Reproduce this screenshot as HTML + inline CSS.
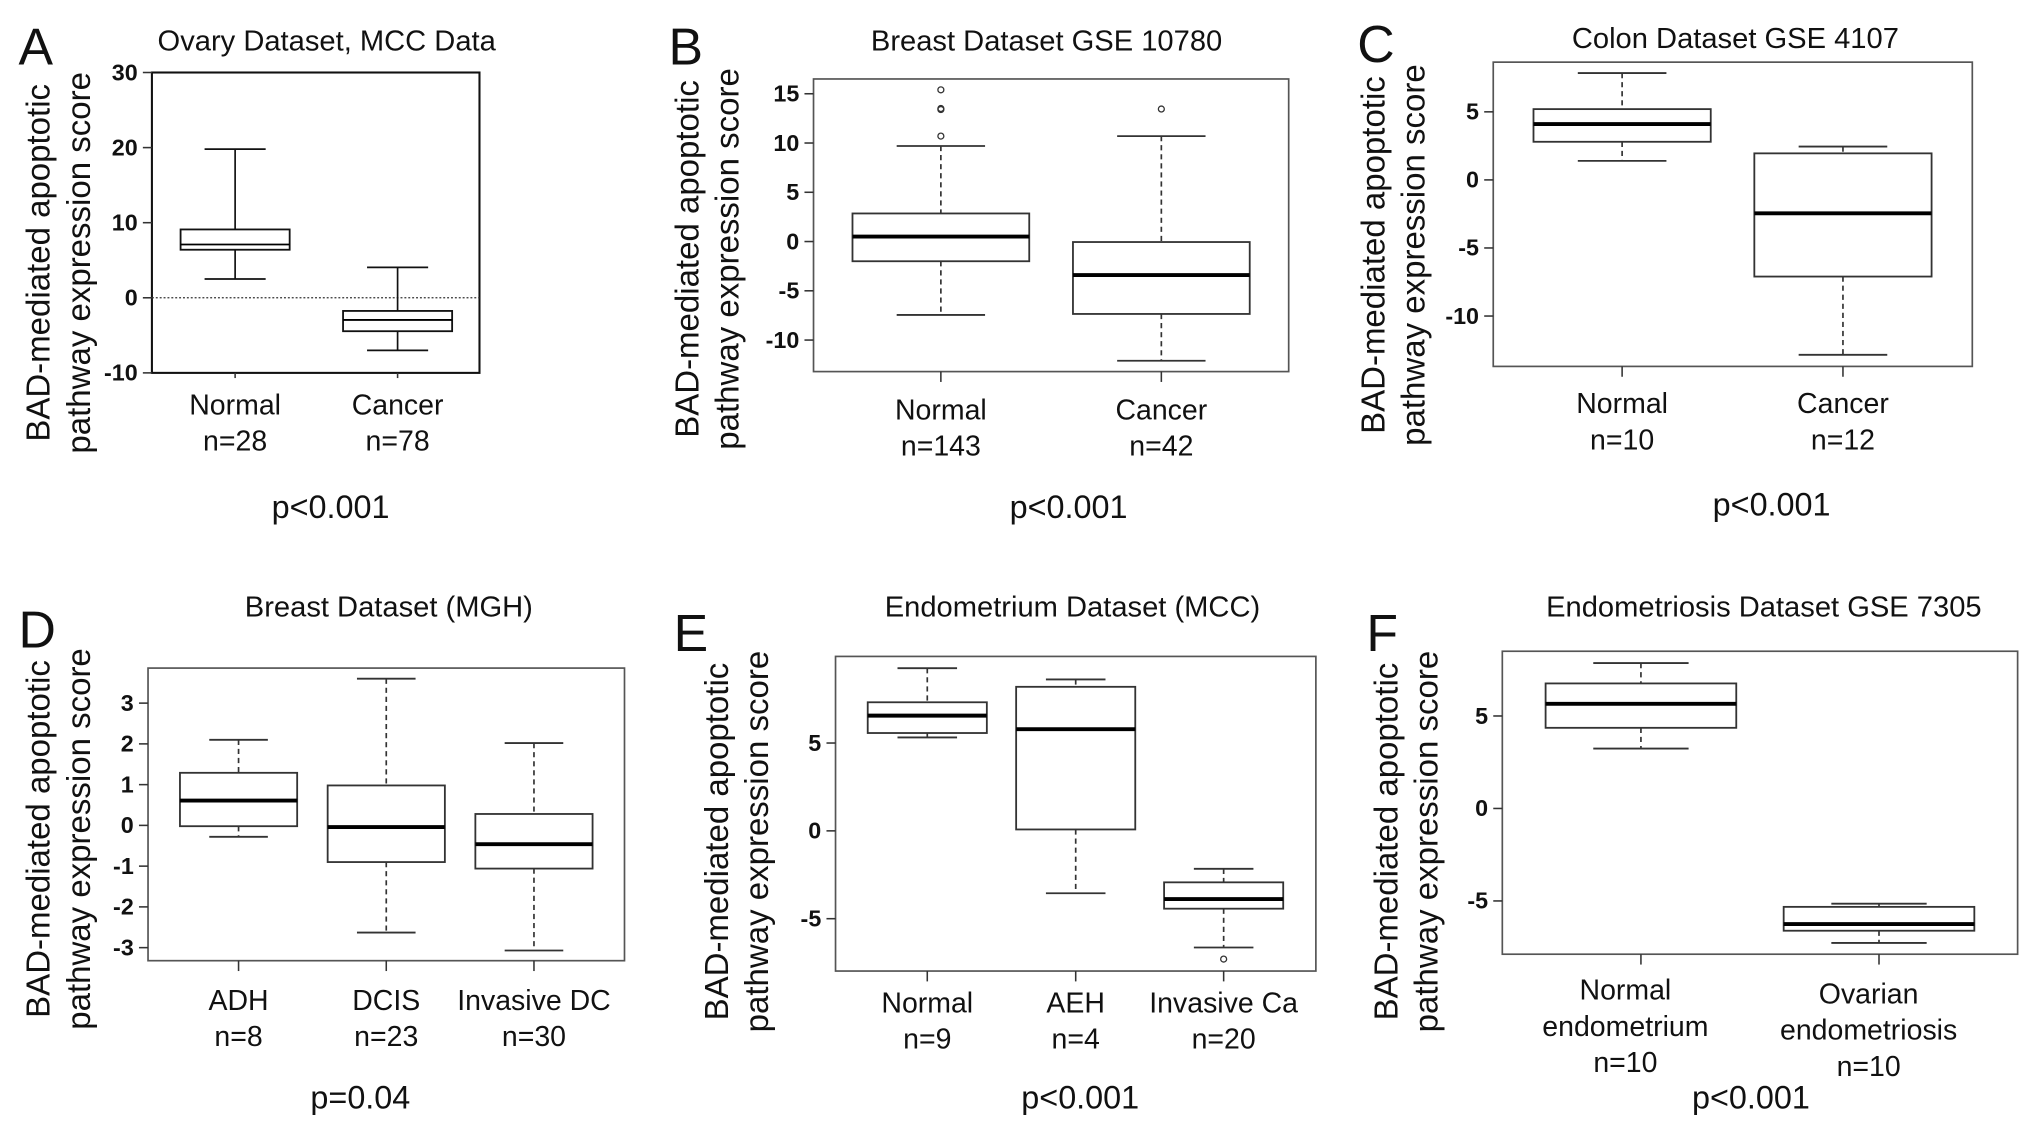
<!DOCTYPE html>
<html><head><meta charset="utf-8"><style>
html,body{margin:0;padding:0;background:#fff;}
svg{display:block;}
text{font-family:"Liberation Sans Narrow","Liberation Sans",sans-serif;fill:#111;}
.lbl{font-family:"Liberation Sans",sans-serif;}
</style></head><body>
<svg id="fig" width="2031" height="1129" viewBox="0 0 1568 872" xmlns="http://www.w3.org/2000/svg"></svg>
<script>
// ---- Panel A data ----
const aCats=["Normal","Cancer"];
const aN=["n=28","n=78"];
const aLo=[2.5,-7.0];
const aQ1=[6.4,-4.45];
const aMed=[7.1,-2.95];
const aQ3=[9.1,-1.75];
const aHi=[19.8,4.05];
const aOut=[[],[]];
const aTicks=[30,20,10,0,-10];
// ---- Panel B data ----
const bCats=["Normal","Cancer"];
const bN=["n=143","n=42"];
const bLo=[-7.45,-12.1];
const bQ1=[-2.0,-7.35];
const bMed=[0.5,-3.4];
const bQ3=[2.85,-0.05];
const bHi=[9.7,10.7];
const bOut=[[15.4,13.5,13.4,10.7],[13.45]];
const bTicks=[15,10,5,0,-5,-10];
// ---- Panel C data ----
const cCats=["Normal","Cancer"];
const cN=["n=10","n=12"];
const cLo=[1.4,-12.85];
const cQ1=[2.8,-7.1];
const cMed=[4.1,-2.45];
const cQ3=[5.2,1.95];
const cHi=[7.85,2.45];
const cOut=[[],[]];
const cTicks=[5,0,-5,-10];
// ---- Panel D data ----
const dCats=["ADH","DCIS","Invasive DC"];
const dN=["n=8","n=23","n=30"];
const dLo=[-0.28,-2.63,-3.07];
const dQ1=[-0.02,-0.9,-1.06];
const dMed=[0.61,-0.04,-0.46];
const dQ3=[1.29,0.98,0.28];
const dHi=[2.1,3.6,2.02];
const dOut=[[],[],[]];
const dTicks=[3,2,1,0,-1,-2,-3];
// ---- Panel E data ----
const eCats=["Normal","AEH","Invasive Ca"];
const eN=["n=9","n=4","n=20"];
const eLo=[5.32,-3.55,-6.64];
const eQ1=[5.57,0.08,-4.43];
const eMed=[6.56,5.79,-3.88];
const eQ3=[7.32,8.2,-2.93];
const eHi=[9.26,8.62,-2.16];
const eOut=[[],[],[-7.3]];
const eTicks=[5,0,-5];
// ---- Panel F data ----
const fCats=["Normal endometrium","Ovarian endometriosis"];
const fN=["n=10","n=10"];
const fLo=[3.24,-7.27];
const fQ1=[4.36,-6.61];
const fMed=[5.66,-6.25];
const fQ3=[6.76,-5.32];
const fHi=[7.86,-5.15];
const fOut=[[],[]];
const fTicks=[5,0,-5];

const NS="http://www.w3.org/2000/svg";
const svg=document.getElementById('fig');
function mk(tag,attrs,parent,txt){const e=document.createElementNS(NS,tag);for(const k in attrs)e.setAttribute(k,attrs[k]);if(txt!==undefined)e.textContent=txt;(parent||svg).appendChild(e);return e;}

function panel(cfg){
  const g=mk('g',{});
  
  
  const L=cfg.x0,R=cfg.x1,T=cfg.y0,B=cfg.y1;
  const ys=v=>T+(cfg.ymax-v)/(cfg.ymax-cfg.ymin)*(B-T);
  const xs=i=>L+cfg.pos[i]*(R-L);
  const bw=cfg.bw*(R-L);
  const prism=cfg.prism;
  let t=mk('text',{x:cfg.lx,y:cfg.ly,'font-size':40,class:'lbl'},g,cfg.letter);
  
  t=mk('text',{x:cfg.tx,y:cfg.ty,'font-size':22.5,'text-anchor':'middle',class:'lbl'},g,cfg.title);
  
  const yt=mk('text',{transform:`translate(${cfg.yx},${cfg.yc}) rotate(-90)`,'font-size':25.5,'text-anchor':'middle',class:'lbl'},g);
  
  mk('tspan',{x:0,y:0},yt,'BAD-mediated apoptotic');
  mk('tspan',{x:0,y:31},yt,'pathway expression score');
  const fr=mk('rect',{x:L,y:T,width:R-L,height:B-T,fill:'none',stroke:prism?'#111':'#555','stroke-width':prism?1.6:1.3},g);
  
  cfg.ticks.forEach(v=>{
    const y=ys(v);
    const tk=mk('line',{x1:L-7,x2:L,y1:y,y2:y,stroke:'#333','stroke-width':1.2},g);
    
    const tl=mk('text',{x:L-11,y:y+6,'font-size':18,'font-weight':'bold','text-anchor':'end'},g,String(v));
    
  });
  if(prism){const z=mk('line',{x1:L,x2:R,y1:ys(0),y2:ys(0),stroke:'#333','stroke-width':1,'stroke-dasharray':'1.5,1.5'},g);
    }
  cfg.cats.forEach((c,i)=>{
    const cx=xs(i);
    const bg=mk('g',{},g);
    
    
    const dash=prism?'':'4,3';
    const col=prism?'#111':'#333';
    mk('line',{x1:cx,x2:cx,y1:ys(cfg.hi[i]),y2:ys(cfg.q3[i]),stroke:col,'stroke-width':1.3,'stroke-dasharray':dash},bg);
    mk('line',{x1:cx,x2:cx,y1:ys(cfg.q1[i]),y2:ys(cfg.lo[i]),stroke:col,'stroke-width':1.3,'stroke-dasharray':dash},bg);
    const cw=prism?bw*0.28:bw*0.25;
    mk('line',{x1:cx-cw,x2:cx+cw,y1:ys(cfg.hi[i]),y2:ys(cfg.hi[i]),stroke:col,'stroke-width':1.4},bg);
    mk('line',{x1:cx-cw,x2:cx+cw,y1:ys(cfg.lo[i]),y2:ys(cfg.lo[i]),stroke:col,'stroke-width':1.4},bg);
    mk('rect',{x:cx-bw/2,y:ys(cfg.q3[i]),width:bw,height:ys(cfg.q1[i])-ys(cfg.q3[i]),fill:'#fff',stroke:col,'stroke-width':1.4},bg);
    mk('line',{x1:cx-bw/2,x2:cx+bw/2,y1:ys(cfg.med[i]),y2:ys(cfg.med[i]),stroke:'#000','stroke-width':prism?1.4:3},bg);
    cfg.out[i].forEach(o=>{const oc=mk('circle',{cx:cx,cy:ys(o),r:2.3,fill:'none',stroke:'#333','stroke-width':1},bg);
      });
    const xt=mk('line',{x1:cx,x2:cx,y1:B,y2:B+(prism?4:8),stroke:'#333','stroke-width':1.2},g);
    
    const lines=cfg.split?c.split(' '):[c];
    lines.push(cfg.n[i]);
    const lb=mk('text',{'font-size':22,'text-anchor':'middle'},g);
    
    const ly0=cfg.cy+(cfg.cyd?cfg.cyd[i]:0);
    lines.forEach((s,k)=>mk('tspan',{x:cx+(cfg.cdx?cfg.cdx[i]:0),y:ly0+k*28},lb,s));
  });
  t=mk('text',{x:cfg.px,y:cfg.py,'font-size':25,'text-anchor':'middle',class:'lbl'},g,cfg.p);
  
}

panel({id:'a',letter:'A',lx:14,ly:50,title:'Ovary Dataset, MCC Data',tx:252,ty:39,yx:38,yc:203,
  x0:117,x1:370,y0:56,y1:288,ymax:30,ymin:-10,pos:[0.254,0.75],bw:0.333,prism:true,
  cats:aCats,n:aN,lo:aLo,q1:aQ1,med:aMed,q3:aQ3,hi:aHi,out:aOut,ticks:aTicks,cy:320,px:255,py:400,p:'p<0.001'});
panel({id:'b',letter:'B',lx:516,ly:50,title:'Breast Dataset GSE 10780',tx:808,ty:39,yx:539,yc:200,
  x0:628,x1:995,y0:61,y1:287,ymax:16.5,ymin:-13.2,pos:[0.268,0.732],bw:0.372,
  cats:bCats,n:bN,lo:bLo,q1:bQ1,med:bMed,q3:bQ3,hi:bHi,out:bOut,ticks:bTicks,cy:324,px:825,py:400,p:'p<0.001'});
panel({id:'c',letter:'C',lx:1048,ly:48,title:'Colon Dataset GSE 4107',tx:1340,ty:37,yx:1069,yc:197,
  x0:1153,x1:1523,y0:48,y1:283,ymax:8.65,ymin:-13.7,pos:[0.269,0.73],bw:0.37,
  cats:cCats,n:cN,lo:cLo,q1:cQ1,med:cMed,q3:cQ3,hi:cHi,out:cOut,ticks:cTicks,cy:319,px:1368,py:398,p:'p<0.001'});
panel({id:'d',letter:'D',lx:14,ly:500,title:'Breast Dataset  (MGH)',tx:300,ty:476,yx:38,yc:648,
  x0:114,x1:482,y0:516,y1:742,ymax:3.86,ymin:-3.32,pos:[0.19,0.5,0.81],bw:0.246,
  cats:dCats,n:dN,lo:dLo,q1:dQ1,med:dMed,q3:dQ3,hi:dHi,out:dOut,ticks:dTicks,cy:780,px:278,py:856,p:'p=0.04'});
panel({id:'e',letter:'E',lx:520,ly:503,title:'Endometrium Dataset (MCC)',tx:828,ty:476,yx:562,yc:650,
  x0:645,x1:1016,y0:507,y1:750,ymax:9.93,ymin:-7.98,pos:[0.191,0.5,0.808],bw:0.248,
  cats:eCats,n:eN,lo:eLo,q1:eQ1,med:eMed,q3:eQ3,hi:eHi,out:eOut,ticks:eTicks,cy:782,px:834,py:856,p:'p<0.001'});
panel({id:'f',letter:'F',lx:1055,ly:503,title:'Endometriosis Dataset GSE 7305',tx:1362,ty:476,yx:1079,yc:650,
  x0:1160,x1:1558,y0:503,y1:737,ymax:8.5,ymin:-7.88,pos:[0.269,0.731],bw:0.37,split:true,cdx:[-12,-8],
  cats:fCats,n:fN,lo:fLo,q1:fQ1,med:fMed,q3:fQ3,hi:fHi,out:fOut,ticks:fTicks,cy:772,cyd:[0,3],px:1352,py:856,p:'p<0.001'});
</script>
</body></html>
